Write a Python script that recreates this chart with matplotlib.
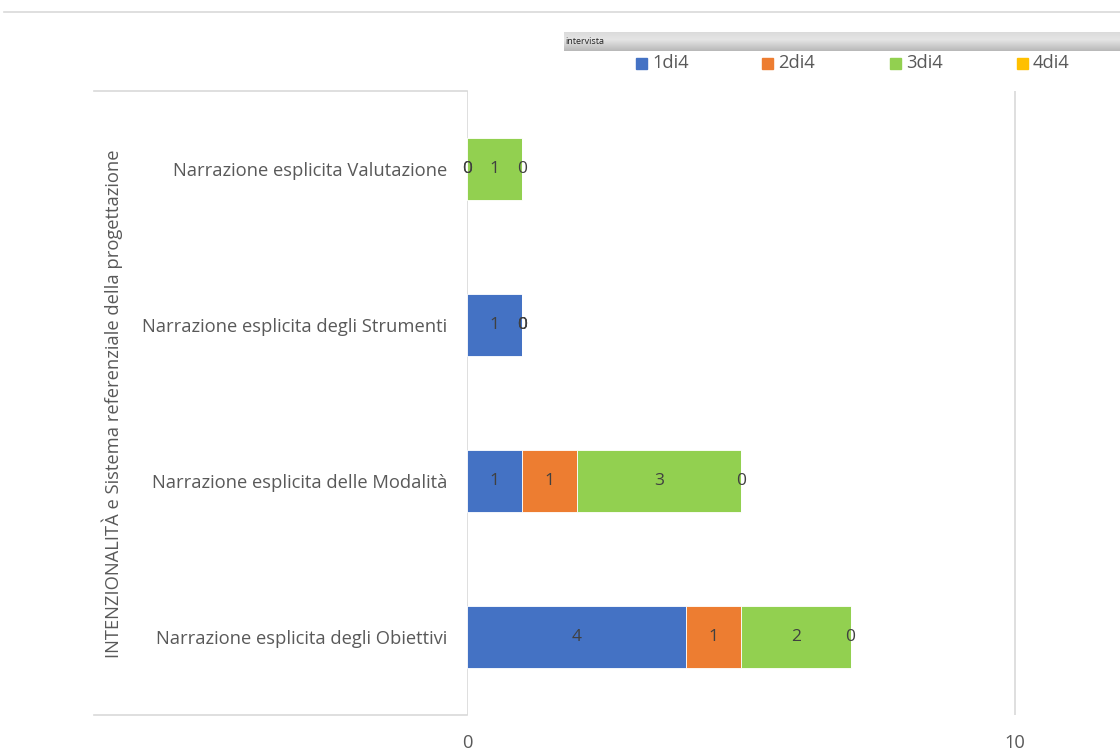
import matplotlib
matplotlib.use("Agg")
import matplotlib.pyplot as plt
from matplotlib.lines import Line2D
from matplotlib.patches import Rectangle
import numpy as np

plt.rcParams['font.family'] = ['Open Sans', 'DejaVu Sans']

categories = [
    "Narrazione esplicita degli Obiettivi",
    "Narrazione esplicita delle Modalità",
    "Narrazione esplicita degli Strumenti",
    "Narrazione esplicita Valutazione",
]
series_names = ["1di4", "2di4", "3di4", "4di4"]
values_1di4 = [4, 1, 1, 0]
values_2di4 = [1, 1, 0, 0]
values_3di4 = [2, 3, 0, 1]
values_4di4 = [0, 0, 0, 0]
colors = ["#4472C4", "#ED7D31", "#92D050", "#FFC000"]
axis_title = "INTENZIONALITÀ e Sistema referenziale della progettazione"
filter_label = "intervista"
x_ticks = [0, 10]

W, H = 1120, 751
fig = plt.figure(figsize=(W / 100, H / 100), dpi=100)

# plot area in pixel coordinates
x0_px, x10_px = 467, 1015
top_px, bot_px = 91, 715
px_per_unit = (x10_px - x0_px) / 10
right_px = 1120
ax = fig.add_axes([x0_px / W, 1 - bot_px / H, (right_px - x0_px) / W, (bot_px - top_px) / H])
ax.set_xlim(0, (right_px - x0_px) / px_per_unit)
ax.set_ylim(-0.5, len(categories) - 0.5)

text_col = "#595959"
grid_col = "#D9D9D9"
fs = 13.2

all_series = [values_1di4, values_2di4, values_3di4, values_4di4]
y = np.arange(len(categories))
left = np.zeros(len(categories))
for name, vals, col in zip(series_names, all_series, colors):
    vals = np.array(vals, dtype=float)
    ax.barh(y, vals, left=left, height=0.4, color=col, edgecolor="white",
            linewidth=0.6, label=name, zorder=3)
    for yi, (l, v) in enumerate(zip(left, vals)):
        ax.text(l + v / 2, yi, f"{int(v)}", ha="center", va="center",
                fontsize=12.5, color="#404040", zorder=4)
    left = left + vals

for s in ax.spines.values():
    s.set_visible(False)
ax.set_xticks(x_ticks)
ax.tick_params(axis="x", length=0, labelsize=fs, labelcolor=text_col, pad=14)
ax.set_yticks(y)
ax.set_yticklabels(categories)
ax.tick_params(axis="y", length=0, labelsize=fs, labelcolor=text_col, pad=14)
for xv in x_ticks:
    ax.axvline(xv, color=grid_col, lw=1.2, zorder=1)

# category axis box lines
for ypx in (top_px, bot_px):
    fig.add_artist(Line2D([94 / W, x0_px / W], [1 - ypx / H, 1 - ypx / H],
                          color=grid_col, lw=1.2))
# top border line
fig.add_artist(Line2D([4 / W, 1.0], [1 - 12 / H, 1 - 12 / H], color=grid_col, lw=1.2))

# rotated axis title
fig.text(112 / W, 1 - 404 / H, axis_title, rotation=90, ha="center", va="center",
         fontsize=fs, color=text_col)

# filter field button (light grey gradient)
t = np.linspace(0, 1, 60)
shade = np.interp(t, [0, 0.4, 1], [0.86, 0.90, 0.72])
img = np.dstack([shade, shade, shade]).reshape(-1, 1, 3)
gax = fig.add_axes([564 / W, 1 - 51 / H, (W - 564) / W, 19 / H])
gax.imshow(img, aspect="auto", extent=[0, 1, 0, 1])
gax.set_axis_off()
gax.text(0.003, 0.5, filter_label, fontsize=6.5, color="#222222", va="center",
         ha="left", transform=gax.transAxes)

# legend
leg_x = [636, 762, 890, 1017]
for xpx, name, col in zip(leg_x, series_names, colors):
    fig.add_artist(Rectangle((xpx / W, 1 - 69 / H), 11 / W, 11 / H,
                             color=col, transform=fig.transFigure))
    fig.text((xpx + 16) / W, 1 - 63 / H, name, fontsize=fs, color=text_col,
             va="center", ha="left")

fig.savefig("out.png", dpi=100, facecolor="white")
